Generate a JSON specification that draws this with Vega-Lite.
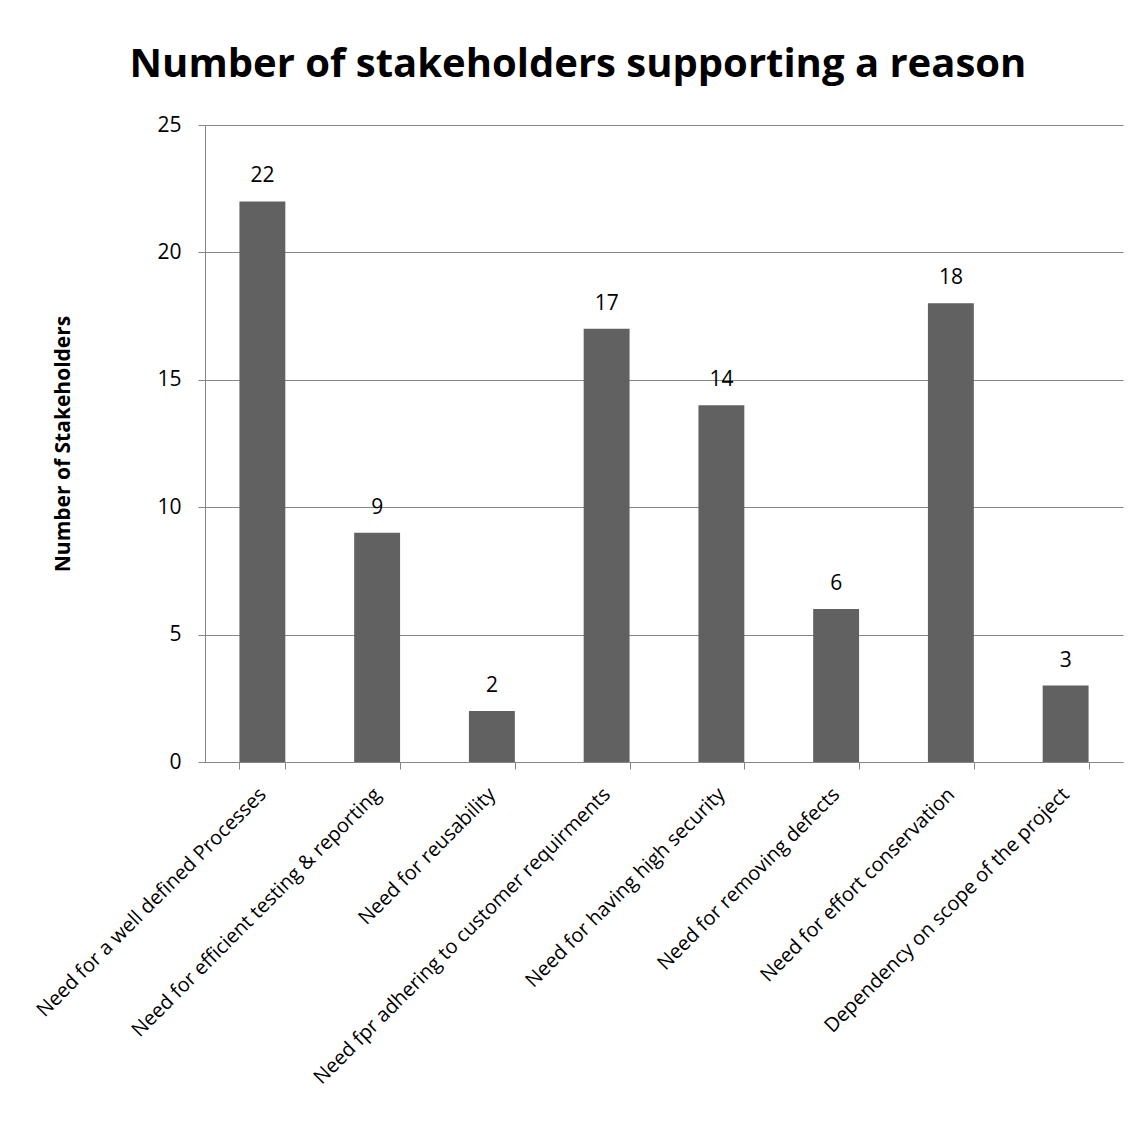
{
  "$schema": "https://vega.github.io/schema/vega-lite/v6.json",
  "width": 918,
  "height": 637,
  "padding": {"left": 32, "top": 45, "right": 14, "bottom": 10},
  "background": "white",
  "title": {
    "text": "Number of stakeholders supporting a reason",
    "font": "Open Sans",
    "fontSize": 40,
    "fontWeight": "bold",
    "color": "black",
    "anchor": "middle",
    "frame": "bounds",
    "offset": 29
  },
  "data": {
    "values": [
      {"reason": "Need for a well defined Processes", "count": 22},
      {"reason": "Need for efficient testing & reporting", "count": 9},
      {"reason": "Need for reusability", "count": 2},
      {"reason": "Need fpr adhering to customer requirments", "count": 17},
      {"reason": "Need for having high security", "count": 14},
      {"reason": "Need for removing defects", "count": 6},
      {"reason": "Need for effort conservation", "count": 18},
      {"reason": "Dependency on scope of the project", "count": 3}
    ]
  },
  "encoding": {
    "x": {
      "field": "reason",
      "type": "nominal",
      "sort": null,
      "scale": {"paddingInner": 0.6, "paddingOuter": 0.3},
      "axis": {
        "title": null,
        "labelAngle": -45,
        "labelAlign": "right",
        "labelBaseline": "middle",
        "labelFont": "Open Sans",
        "labelFontSize": 20,
        "labelColor": "black",
        "labelPadding": 22,
        "labelLimit": 600,
        "tickBand": "extent",
        "tickSize": 7,
        "tickColor": "#868686",
        "domainColor": "#868686",
        "grid": false
      }
    },
    "y": {
      "field": "count",
      "type": "quantitative",
      "scale": {"domain": [0, 25]},
      "axis": {
        "title": "Number of Stakeholders",
        "titleFont": "Open Sans",
        "titleFontSize": 21,
        "titleFontWeight": "bold",
        "titleColor": "black",
        "titlePadding": 83,
        "values": [0, 5, 10, 15, 20, 25],
        "labelFont": "Open Sans",
        "labelFontSize": 21,
        "labelColor": "black",
        "labelPadding": 17,
        "tickSize": 7,
        "tickColor": "#868686",
        "domainColor": "#868686",
        "grid": true,
        "gridColor": "#868686",
        "gridWidth": 1
      }
    }
  },
  "layer": [
    {"mark": {"type": "bar", "color": "#616161"}},
    {
      "mark": {
        "type": "text",
        "font": "Open Sans",
        "fontSize": 21,
        "color": "black",
        "baseline": "alphabetic",
        "dy": -19
      },
      "encoding": {"text": {"field": "count", "type": "quantitative"}}
    }
  ],
  "config": {"view": {"stroke": null}}
}
